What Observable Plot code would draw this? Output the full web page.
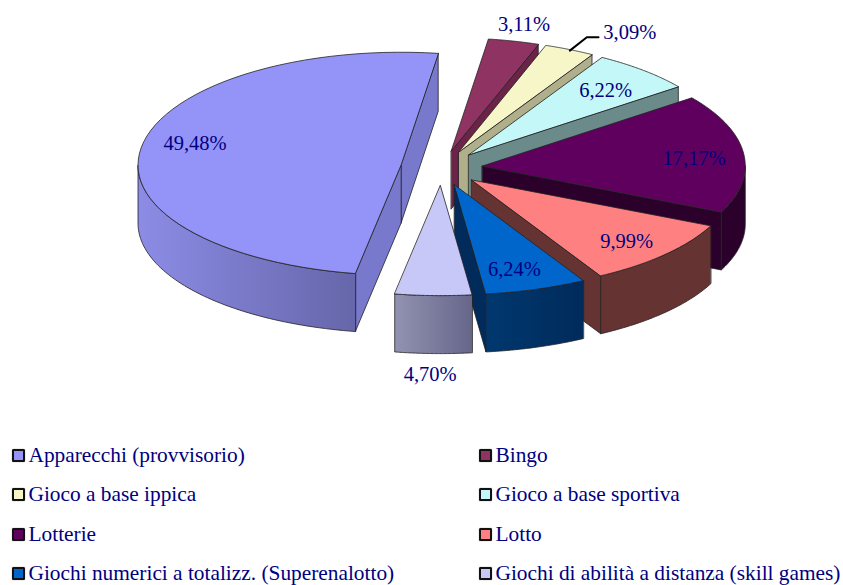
<!DOCTYPE html>
<html><head><meta charset="utf-8">
<style>
html,body{margin:0;padding:0;background:#fff;width:843px;height:585px;overflow:hidden}
#chart{position:absolute;left:0;top:0}
#chart svg{display:block;background:transparent}
#legend{position:absolute;left:12px;top:435.8px;display:grid;grid-template-columns:467px 360px;grid-auto-rows:39.3px;
 font-family:"Liberation Serif",serif;font-size:21.35px;color:#000080}
.item{display:flex;align-items:center;white-space:nowrap;height:39.3px}
.sw{box-sizing:border-box;width:13px;height:13px;border:2px solid #111;border-radius:1.5px;margin-right:3.5px;box-shadow:0 0 1px #555;flex:none}
</style></head><body>
<div id="chart"></div><div id="legend"></div>
<script src="https://cdn.jsdelivr.net/npm/d3@7"></script>
<script src="https://cdn.jsdelivr.net/npm/@observablehq/plot@0.6"></script>
<script>
const categories = ["Apparecchi (provvisorio)","Bingo","Gioco a base ippica","Gioco a base sportiva","Lotterie","Lotto","Giochi numerici a totalizz. (Superenalotto)","Giochi di abilità a distanza (skill games)"];
const shares = [49.48,3.11,3.09,6.22,17.17,9.99,6.24,4.70];
const shareLabels = ["49,48%","3,11%","3,09%","6,22%","17,17%","9,99%","6,24%","4,70%"];
const topColors = ["#9494f8","#8f3363","#f6f6c8","#c4f8f8","#5f005f","#ff8080","#0066cc","#c8c8f8"];
const faceColors = ["#7878cc","#6b2347","#afaf8c","#6b8a8a","#2b002b","#663333","#002b5b","#8a8aa8"];
const wallStops = [["#8c8ce6","#6666aa"],["#6b2347","#6b2347"],["#afaf8c","#afaf8c"],["#6b8a8a","#6b8a8a"],["#2b002b","#2b002b"],["#663333","#663333"],["#00386f","#002b5b"],["#9292b2","#66668a"]];
// label placement in each slice's own frame: angle (deg), fraction of radius
const labelAngle = [284,13.9,31.6,42.6,85,133.3,163.4,181.3];
const labelRadius = [.807,1.152,1.241,.769,.809,.81,.80,1.72];
const leaderAngle = [25.2,25.6,27.6];
const leaderRadius = [.992,1.127,1.147];

const W = 843, H = 435;
const cx = 441, cy = 167.5, rx = 263, ryBack = 113, ryFront = 110, depth = 58, explode = 41, startAngle = 190;
const rad = d => d * Math.PI / 180;

let acc = startAngle;
const slices = shares.map((v, i) => {
  if (acc >= 360) acc -= 360;
  const t0 = acc, t1 = acc + v * 3.6; acc = t1;
  const mid = (t0 + t1) / 2;
  const ax = cx + explode * Math.sin(rad(mid));
  const ay = cy - explode * (ryBack / rx) * Math.cos(rad(mid));
  return {i, t0, t1, mid, ax, ay};
});
const at = (s, t, f = 1, dz = 0) => {
  const c = Math.cos(rad(t));
  return {x: s.ax + f * rx * Math.sin(rad(t)), y: s.ay - f * (c > 0 ? ryBack : ryFront) * c + dz};
};
const arc = (s, a, b, dz = 0) => d3.range(0, 61).map(k => at(s, a + (b - a) * k / 60, 1, dz));

const polys = [];
for (const i of [1,2,3,4,5,6,7,0]) {
  const s = slices[i];
  const apex = {x: s.ax, y: s.ay}, apexB = {x: s.ax, y: s.ay + depth};
  if (Math.sin(rad(s.t1)) > 0) polys.push({pts: [apex, at(s, s.t1), at(s, s.t1, 1, depth), apexB], fill: faceColors[i]});
  if (Math.sin(rad(s.t0)) < 0) polys.push({pts: [apex, at(s, s.t0), at(s, s.t0, 1, depth), apexB], fill: faceColors[i]});
  const a = Math.max(s.t0, 90), b = Math.min(s.t1, 270);
  if (b > a) polys.push({pts: [...arc(s, a, b), ...arc(s, b, a, depth)], fill: `url(#wall${i})`});
  polys.push({pts: [apex, ...arc(s, s.t0, s.t1)], fill: topColors[i]});
}

const labels = slices.map(s => ({...at(s, labelAngle[s.i], labelRadius[s.i]), text: shareLabels[s.i]}));
const leader = leaderAngle.map((t, k) => at(slices[2], t, leaderRadius[k]));

const defs = () => {
  const ns = "http://www.w3.org/2000/svg";
  const d = document.createElementNS(ns, "defs");
  wallStops.forEach((st, i) => {
    const g = document.createElementNS(ns, "linearGradient");
    g.setAttribute("id", `wall${i}`);
    st.forEach((c, k) => {
      const e = document.createElementNS(ns, "stop");
      e.setAttribute("offset", k); e.setAttribute("stop-color", c);
      g.appendChild(e);
    });
    d.appendChild(g);
  });
  return d;
};

const plot = Plot.plot({
  width: W, height: H, margin: 0,
  x: {domain: [0, W], range: [0, W], axis: null},
  y: {domain: [0, H], range: [0, H], axis: null},
  style: {background: "transparent"},
  marks: [
    defs,
    ...polys.map(p => Plot.line(p.pts, {x: "x", y: "y", fill: p.fill, stroke: "#222", strokeWidth: 0.8, curve: "linear-closed", strokeLinejoin: "round"})),
    Plot.line(leader, {x: "x", y: "y", stroke: "#000", strokeWidth: 2}),
    Plot.text(labels, {x: "x", y: "y", text: "text", fill: "#000080", fontSize: 20.5, fontFamily: "Liberation Serif", textAnchor: "middle", lineAnchor: "middle"})
  ]
});
document.getElementById("chart").appendChild(plot);

const legend = document.getElementById("legend");
categories.forEach((c, i) => {
  const it = document.createElement("div"); it.className = "item";
  const sw = document.createElement("span"); sw.className = "sw"; sw.style.background = topColors[i];
  const tx = document.createElement("span"); tx.textContent = c;
  it.append(sw, tx); legend.appendChild(it);
});
</script></body></html>
